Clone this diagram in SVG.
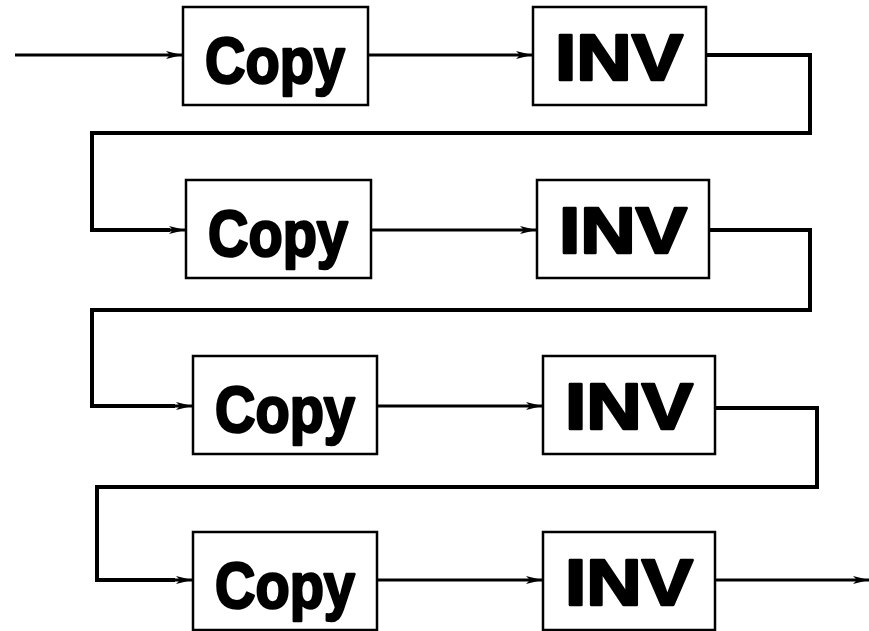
<svg xmlns="http://www.w3.org/2000/svg" width="869" height="631" viewBox="0 0 869 631">
  <style>
    .box { fill: #fff; stroke: #000; stroke-width: 2.5; }
    .lbl { font-family: "Comic Sans MS", "Liberation Sans", "DejaVu Sans", sans-serif; font-weight: bold; font-size: 64px; fill: #000; stroke: #000; stroke-width: 2.5; stroke-linejoin: round; text-anchor: middle; }
    .wire { fill: none; stroke: #000; stroke-width: 3; }
    .loop { fill: none; stroke: #000; stroke-width: 4; stroke-linejoin: miter; }
  </style>
  <defs>
    <marker id="arrow" viewBox="0 0 16 8" refX="16" refY="4" markerWidth="16" markerHeight="8" markerUnits="userSpaceOnUse" orient="auto">
      <path d="M0,0 L16,4 L0,8 L4,4 Z" fill="#000"/>
    </marker>
  </defs>

  <g id="connectors">
    <!-- input -->
    <line class="wire" x1="15" y1="55" x2="182" y2="55" marker-end="url(#arrow)"/>
    <!-- Copy -> INV -->
    <line class="wire" x1="368" y1="55" x2="532" y2="55" marker-end="url(#arrow)"/>
    <line class="wire" x1="371" y1="230" x2="536" y2="230" marker-end="url(#arrow)"/>
    <line class="wire" x1="377" y1="406" x2="542" y2="406" marker-end="url(#arrow)"/>
    <line class="wire" x1="377" y1="580" x2="542" y2="580" marker-end="url(#arrow)"/>
    <!-- INV -> next Copy loops -->
    <path class="loop" d="M706,55 H810 V133 H92 V230 H170"/>
    <line class="wire" x1="168" y1="230" x2="185" y2="230" marker-end="url(#arrow)"/>
    <path class="loop" d="M709,230 H810 V310 H92 V406 H175"/>
    <line class="wire" x1="173" y1="406" x2="192" y2="406" marker-end="url(#arrow)"/>
    <path class="loop" d="M715,408 H817 V487 H97 V580 H175"/>
    <line class="wire" x1="173" y1="580" x2="192" y2="580" marker-end="url(#arrow)"/>
    <!-- output -->
    <line class="wire" x1="715" y1="580" x2="869" y2="580" marker-end="url(#arrow)"/>
  </g>

  <g id="copy1">
    <rect class="box" x="183" y="7" width="185" height="98"/>
    <text class="lbl" x="275" y="83" textLength="140" lengthAdjust="spacingAndGlyphs">Copy</text>
  </g>
  <g id="inv1">
    <rect class="box" x="533" y="7" width="173" height="98"/>
    <text class="lbl" x="619" y="80" textLength="128" lengthAdjust="spacingAndGlyphs">INV</text>
  </g>

  <g id="copy2">
    <rect class="box" x="186" y="180" width="185" height="98"/>
    <text class="lbl" x="278" y="256" textLength="140" lengthAdjust="spacingAndGlyphs">Copy</text>
  </g>
  <g id="inv2">
    <rect class="box" x="537" y="180" width="172" height="98"/>
    <text class="lbl" x="623" y="253" textLength="128" lengthAdjust="spacingAndGlyphs">INV</text>
  </g>

  <g id="copy3">
    <rect class="box" x="193" y="356" width="184" height="98"/>
    <text class="lbl" x="285" y="432" textLength="140" lengthAdjust="spacingAndGlyphs">Copy</text>
  </g>
  <g id="inv3">
    <rect class="box" x="543" y="356" width="172" height="98"/>
    <text class="lbl" x="629" y="429" textLength="128" lengthAdjust="spacingAndGlyphs">INV</text>
  </g>

  <g id="copy4">
    <rect class="box" x="193" y="532" width="184" height="98"/>
    <text class="lbl" x="285" y="608" textLength="140" lengthAdjust="spacingAndGlyphs">Copy</text>
  </g>
  <g id="inv4">
    <rect class="box" x="543" y="532" width="172" height="98"/>
    <text class="lbl" x="629" y="605" textLength="128" lengthAdjust="spacingAndGlyphs">INV</text>
  </g>
</svg>
